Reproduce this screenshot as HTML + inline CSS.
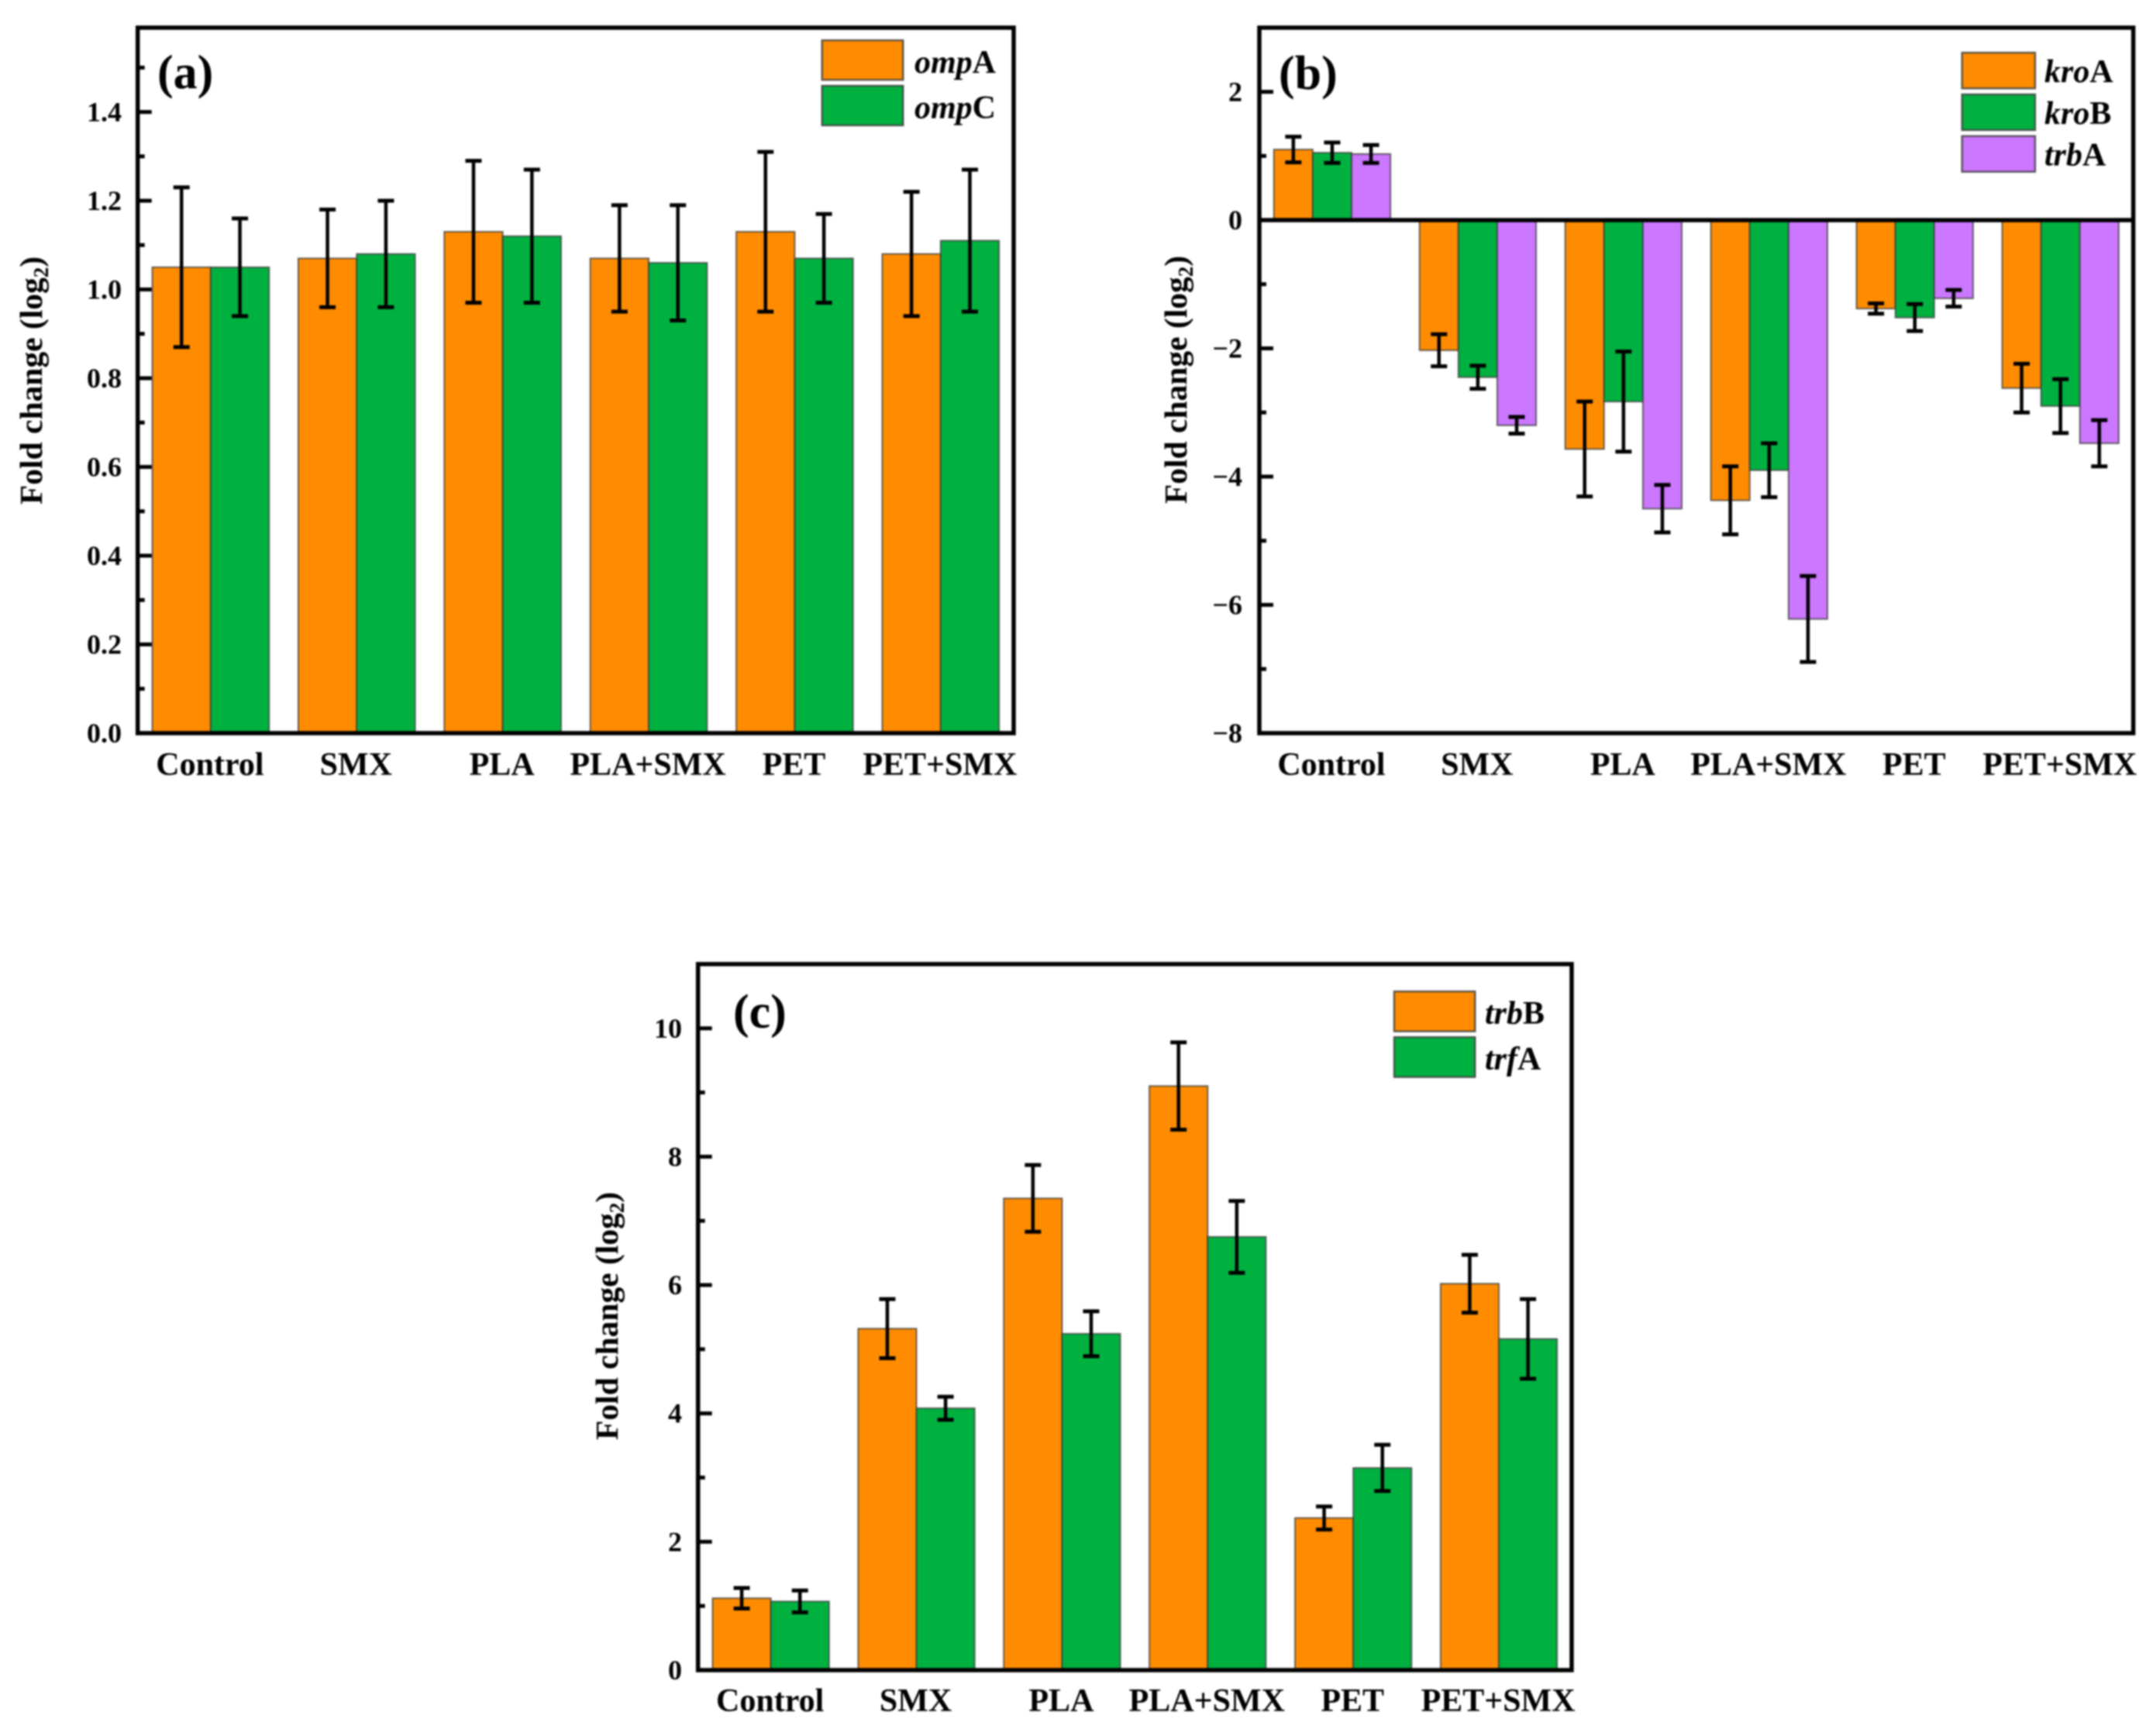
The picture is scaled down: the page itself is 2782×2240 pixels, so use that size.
<!DOCTYPE html>
<html lang="en">
<head>
<meta charset="utf-8">
<title>Fold change of gene expression</title>
<style>
  html, body { margin: 0; padding: 0; background: #fff; }
  body { width: 2782px; height: 2240px; overflow: hidden; }
  svg { display: block; filter: blur(1px); }
  text { font-family: "Liberation Serif", "Times New Roman", serif; font-weight: bold; fill: #000; }
</style>
</head>
<body>
<svg id="figure" xmlns="http://www.w3.org/2000/svg" width="2782" height="2240" viewBox="0 0 2782 2240"></svg>
<script>
// ---- Shared categories ----
const categories = ["Control", "SMX", "PLA", "PLA+SMX", "PET", "PET+SMX"];

// ---- Panel (a) ----
const ompA = [1.05, 1.07, 1.13, 1.07, 1.13, 1.08];
const ompAErr = [0.18, 0.11, 0.16, 0.12, 0.18, 0.14];
const ompC = [1.05, 1.08, 1.12, 1.06, 1.07, 1.11];
const ompCErr = [0.11, 0.12, 0.15, 0.13, 0.10, 0.16];
const ticksA = [0, 0.2, 0.4, 0.6, 0.8, 1.0, 1.2, 1.4];
const tickLabelsA = ["0.0", "0.2", "0.4", "0.6", "0.8", "1.0", "1.2", "1.4"];
const minorTicksA = [0.1, 0.3, 0.5, 0.7, 0.9, 1.1, 1.3, 1.5];

// ---- Panel (b) ----
const kroA = [1.10, -2.03, -3.57, -4.37, -1.38, -2.62];
const kroAErr = [0.20, 0.25, 0.74, 0.53, 0.08, 0.38];
const kroB = [1.05, -2.45, -2.83, -3.90, -1.52, -2.90];
const kroBErr = [0.16, 0.18, 0.78, 0.42, 0.21, 0.42];
const trbA = [1.03, -3.20, -4.50, -6.22, -1.22, -3.48];
const trbAErr = [0.14, 0.13, 0.37, 0.67, 0.13, 0.36];
const ticksB = [-8, -6, -4, -2, 0, 2];
const tickLabelsB = ["\u22128", "\u22126", "\u22124", "\u22122", "0", "2"];
const minorTicksB = [-7, -5, -3, -1, 1];

// ---- Panel (c) ----
const trbB = [1.12, 5.32, 7.35, 9.10, 2.37, 6.02];
const trbBErr = [0.16, 0.46, 0.52, 0.68, 0.18, 0.45];
const trfA = [1.07, 4.08, 5.24, 6.75, 3.15, 5.16];
const trfAErr = [0.17, 0.18, 0.35, 0.56, 0.36, 0.62];
const ticksC = [0, 2, 4, 6, 8, 10];
const tickLabelsC = ["0", "2", "4", "6", "8", "10"];
const minorTicksC = [1, 3, 5, 7, 9];

// ---- Colours ----
const ORANGE = "#FF8C00";
const GREEN = "#00B140";
const PURPLE = "#CC77FF";
const SVGNS = "http://www.w3.org/2000/svg";
const figure = document.getElementById("figure");

function make(tag, parent) {
  const node = document.createElementNS(SVGNS, tag);
  parent.appendChild(node);
  return node;
}

function line(parent, x1, y1, x2, y2, width, color) {
  const l = make("line", parent);
  l.setAttribute("x1", x1);
  l.setAttribute("y1", y1);
  l.setAttribute("x2", x2);
  l.setAttribute("y2", y2);
  l.setAttribute("stroke", color || "#000");
  l.setAttribute("stroke-width", width);
  return l;
}

function label(parent, x, y, size, anchor, content) {
  const t = make("text", parent);
  t.setAttribute("x", x);
  t.setAttribute("y", y);
  t.setAttribute("font-size", size);
  t.setAttribute("text-anchor", anchor);
  t.textContent = content;
  return t;
}

function drawPanel(cfg) {
  const g = make("g", figure);
  
  

  const W = cfg.right - cfg.left;
  const step = W / categories.length;
  const yScale = v => cfg.bottom - (v - cfg.yMin) / (cfg.yMax - cfg.yMin) * (cfg.bottom - cfg.top);
  const xCenter = i => cfg.left + (i + 0.5) * step;
  const barW = step * 0.8 / cfg.series.length;
  const base = yScale(Math.max(0, cfg.yMin));

  // bars and error bars
  cfg.series.forEach((s, si) => {
    s.values.forEach((v, i) => {
      const x = xCenter(i) - step * 0.4 + si * barW;
      const yv = yScale(v);
      const bar = make("rect", g);
      
      
      bar.setAttribute("x", x);
      bar.setAttribute("y", Math.min(yv, base));
      bar.setAttribute("width", barW);
      bar.setAttribute("height", Math.abs(yv - base));
      bar.setAttribute("fill", s.color);
      bar.setAttribute("stroke", "#3a3a3a");
      bar.setAttribute("stroke-opacity", "0.75");
      bar.setAttribute("stroke-width", "2");
    });
  });

  cfg.series.forEach((s, si) => {
    s.values.forEach((v, i) => {
      const cx = xCenter(i) - step * 0.4 + (si + 0.5) * barW;
      const hi = yScale(v + s.errors[i]);
      const lo = yScale(v - s.errors[i]);
      const err = make("g", g);
      
      
      line(err, cx, hi, cx, lo, 4.5);
      line(err, cx - 10.5, hi, cx + 10.5, hi, 5);
      line(err, cx - 10.5, lo, cx + 10.5, lo, 5);
    });
  });

  // y ticks
  cfg.ticks.forEach((t, i) => {
    const tk = line(g, cfg.left, yScale(t), cfg.left + 18, yScale(t), 5);
    
    
    const tl = label(g, cfg.tickRight, yScale(t) + 12, 36, "end", cfg.tickLabels[i]);
    
    
  });
  cfg.minor.forEach(t => {
    const tk = line(g, cfg.left, yScale(t), cfg.left + 9, yScale(t), 5);
    
    
  });

  // zero line (only when the axis spans negative values)
  if (cfg.yMin < 0) {
    const zero = line(g, cfg.left, yScale(0), cfg.right, yScale(0), 5.5);
    
    
  }

  // frame
  const frame = make("rect", g);
  
  
  frame.setAttribute("x", cfg.left);
  frame.setAttribute("y", cfg.top);
  frame.setAttribute("width", W);
  frame.setAttribute("height", cfg.bottom - cfg.top);
  frame.setAttribute("fill", "none");
  frame.setAttribute("stroke", "#000");
  frame.setAttribute("stroke-width", "5.5");

  // category labels
  categories.forEach((c, i) => {
    const t = label(g, xCenter(i) - 1, cfg.catBaseline, 42, "middle", c);
    
    
  });

  // y axis title
  const title = make("text", g);
  
  
  title.setAttribute("font-size", "41.5");
  title.setAttribute("text-anchor", "middle");
  title.setAttribute("transform", "translate(" + cfg.titleX + "," + cfg.titleY + ") rotate(-90)");
  title.appendChild(document.createTextNode("Fold change (log"));
  const sub = make("tspan", title);
  sub.setAttribute("font-size", "27");
  sub.setAttribute("dy", "8");
  sub.textContent = "2";
  const close = make("tspan", title);
  close.setAttribute("dy", "-8");
  close.textContent = ")";

  // panel letter
  const letter = label(g, cfg.letterX, cfg.letterY, 62, "start", cfg.letter);
  
  

  // legend
  cfg.series.forEach((s, si) => {
    const entry = make("g", g);
    
    
    const sw = make("rect", entry);
    sw.setAttribute("x", cfg.legendX);
    sw.setAttribute("y", cfg.legendY + si * cfg.legendStep);
    sw.setAttribute("width", cfg.legendW);
    sw.setAttribute("height", cfg.legendH);
    sw.setAttribute("fill", s.color);
    sw.setAttribute("stroke", "#3a3a3a");
    sw.setAttribute("stroke-opacity", "0.8");
    sw.setAttribute("stroke-width", "2.5");
    const t = make("text", entry);
    t.setAttribute("x", cfg.legendTextX);
    t.setAttribute("y", cfg.legendBase + si * cfg.legendStep);
    t.setAttribute("font-size", "42");
    const it = make("tspan", t);
    it.setAttribute("font-style", "italic");
    it.textContent = s.italic;
    const up = make("tspan", t);
    up.textContent = s.upright;
  });
}

drawPanel({
  id: "a", letter: "(a)",
  left: 177.7, right: 1308, top: 35.7, bottom: 946,
  yMin: 0, yMax: 1.59,
  ticks: ticksA, tickLabels: tickLabelsA, minor: minorTicksA,
  tickRight: 157, catBaseline: 1000,
  titleX: 54, titleY: 491,
  letterX: 203, letterY: 114,
  legendX: 1060.7, legendY: 52, legendW: 104.6, legendH: 51, legendStep: 58.7,
  legendTextX: 1180, legendBase: 94,
  series: [
    { name: "ompA", italic: "omp", upright: "A", color: ORANGE, values: ompA, errors: ompAErr },
    { name: "ompC", italic: "omp", upright: "C", color: GREEN, values: ompC, errors: ompCErr }
  ]
});

drawPanel({
  id: "b", letter: "(b)",
  left: 1625, right: 2752.7, top: 35.7, bottom: 946,
  yMin: -8, yMax: 3,
  ticks: ticksB, tickLabels: tickLabelsB, minor: minorTicksB,
  tickRight: 1603, catBaseline: 1000,
  titleX: 1531, titleY: 490,
  letterX: 1650, letterY: 115,
  legendX: 2531.7, legendY: 68, legendW: 94.3, legendH: 46, legendStep: 53.8,
  legendTextX: 2638, legendBase: 106,
  series: [
    { name: "kroA", italic: "kro", upright: "A", color: ORANGE, values: kroA, errors: kroAErr },
    { name: "kroB", italic: "kro", upright: "B", color: GREEN, values: kroB, errors: kroBErr },
    { name: "trbA", italic: "trb", upright: "A", color: PURPLE, values: trbA, errors: trbAErr }
  ]
});

drawPanel({
  id: "c", letter: "(c)",
  left: 900.7, right: 2028, top: 1244, bottom: 2155,
  yMin: 0, yMax: 11,
  ticks: ticksC, tickLabels: tickLabelsC, minor: minorTicksC,
  tickRight: 880, catBaseline: 2208,
  titleX: 797, titleY: 1698,
  letterX: 946, letterY: 1326,
  legendX: 1799, legendY: 1279.3, legendW: 104.3, legendH: 51.4, legendStep: 59,
  legendTextX: 1916, legendBase: 1321,
  series: [
    { name: "trbB", italic: "trb", upright: "B", color: ORANGE, values: trbB, errors: trbBErr },
    { name: "trfA", italic: "trf", upright: "A", color: GREEN, values: trfA, errors: trfAErr }
  ]
});
</script>
</body>
</html>
